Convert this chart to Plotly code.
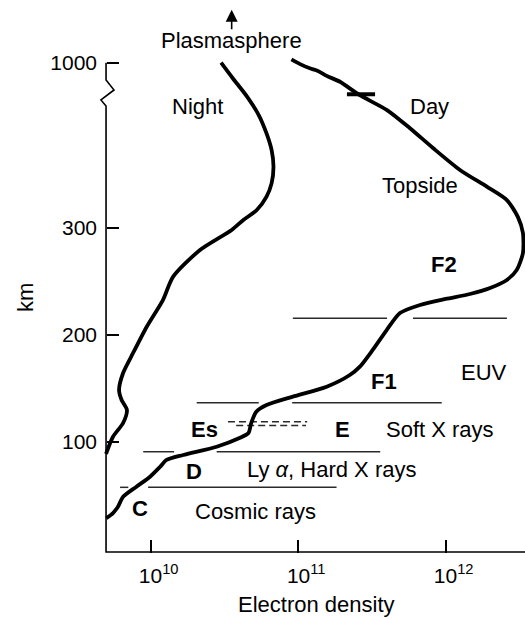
import math
import plotly.graph_objects as go

# ---------------- data ----------------
# Day electron-density profile (electrons per m^3) vs altitude (km)
day_density = [5.0e9, 5.55e9, 6.0e9, 6.5e9, 8.0e9, 9.9e9, 1.16e10, 1.28e10, 1.66e10,
               2.8e10, 4.0e10, 4.6e10, 4.8e10, 5.2e10, 6.1e10, 9.2e10, 1.56e11, 2.24e11,
               2.62e11, 3.2e11, 3.98e11, 4.9e11, 6.7e11, 1.0e12, 1.46e12, 2.0e12, 2.6e12,
               3.03e12, 3.34e12, 3.34e12, 3.09e12, 2.6e12, 1.9e12, 1.25e12, 8.2e11, 5.7e11,
               4.0e11, 2.6e11, 1.92e11, 1.56e11, 1.36e11, 1.2e11, 1.03e11, 9.0e10]
day_km = [28.8, 33.7, 39.6, 48.9, 58.3, 67.6, 76.9, 83.2, 87.9,
          95.6, 103.7, 108.4, 117.7, 128.3, 134.5, 142.3, 151.6, 162.5,
          170.3, 185.9, 204.5, 220.4, 227.9, 233.5, 238.1, 243.7, 251.2,
          260.5, 276.4, 295.0, 345, 417, 474, 545, 638, 723,
          799, 863, 919, 944, 965, 976, 994, 1014]

# Night electron-density profile
night_density = [4.98e9, 5.55e9, 6.5e9, 6.9e9, 6.35e9, 6.1e9, 6.5e9, 7.6e9, 9.4e9,
                 1.21e10, 1.42e10, 2.16e10, 3.54e10, 4.25e10, 5.24e10, 6.1e10, 6.6e10,
                 6.8e10, 6.6e10, 6.1e10, 5.4e10, 4.5e10, 3.6e10, 3.0e10]
night_km = [89, 104.9, 117.7, 129.9, 139.2, 148.5, 164.4, 183.1, 207.6,
            232.5, 254.3, 279.2, 297.9, 333, 375, 432, 488,
            559, 630, 700, 778, 856, 934, 1000]

# Layer boundary lines: start density, end density, altitude (km)
band_x0 = [9.2e10, 6.0e11, 2.05e10, 9.1e10, 8.9e9, 2.8e10, 6.2e9, 9.6e9]
band_x1 = [4.0e11, 2.6e12, 5.4e10, 9.4e11, 1.44e10, 3.6e11, 7.05e9, 1.82e11]
band_km = [215.5, 215.5, 136.7, 136.7, 90.9, 90.9, 57.7, 57.7]

# Sporadic-E (Es) dashed lines
es_x0 = [3.34e10, 3.8e10]
es_x1 = [1.15e11, 1.13e11]
es_km = [118.9, 115.4]

# Break mark on the day curve
mark_x = [2.14e11, 3.32e11]
mark_km = [866, 866]

# Text labels
label_text = ["Plasmasphere", "Night", "Day", "Topside", "F2", "F1", "EUV", "E",
              "Soft X rays", "Es", "D", "Ly <i>α</i>, Hard X rays", "C", "Cosmic rays"]
label_x = [3.54e10, 2.08e10, 7.76e11, 6.7e11, 9.8e11, 3.82e11, 1.82e12, 2.0e11,
           9.15e11, 2.3e10, 1.97e10, 1.69e11, 8.47e9, 5.14e10]
label_km = [1096, 816, 816, 481, 265.2, 156.9, 164.4, 111.2,
            112.1, 111.2, 72.9, 73.9, 38.4, 34.7]
label_bold = [False, False, False, False, True, True, False, True,
              False, True, True, False, True, False]

x_tickvals = [1e10, 1e11, 1e12]
x_ticktext = ["10<sup>10</sup>", "10<sup>11</sup>", "10<sup>12</sup>"]
y_tick_km = [100, 200, 300, 1000]
y_ticktext = ["100", "200", "300", "1000"]


# altitude axis: linear up to 300 km, compressed above (broken axis)
def disp(km):
    return km if km <= 300 else 300 + (km - 300) * 154.0 / 700.0


FONT = "Liberation Sans, Arial, Helvetica, sans-serif"
fig = go.Figure()

# axis frame with break symbol (left and bottom lines)
frame_x = [4.98e9, 4.98e9, 5.64e9, 4.6e9, 4.98e9, 4.98e9, 3.45e12]
frame_y = [disp(1000), 437.8, 428.5, 419.2, 413.6, -2.66, -2.66]
fig.add_trace(go.Scatter(x=frame_x, y=frame_y, mode="lines",
                         line=dict(color="black", width=1.6), hoverinfo="skip"))

for x0, x1, k in zip(band_x0, band_x1, band_km):
    fig.add_trace(go.Scatter(x=[x0, x1], y=[disp(k), disp(k)], mode="lines",
                             line=dict(color="#2a2a2a", width=1.5), hoverinfo="skip"))
for x0, x1, k in zip(es_x0, es_x1, es_km):
    fig.add_trace(go.Scatter(x=[x0, x1], y=[disp(k), disp(k)], mode="lines",
                             line=dict(color="#2a2a2a", width=1.3, dash="7px,4px"),
                             hoverinfo="skip"))

fig.add_trace(go.Scatter(x=day_density, y=[disp(k) for k in day_km], mode="lines",
                         line=dict(color="black", width=3.8, shape="spline", smoothing=0.7),
                         name="Day"))
fig.add_trace(go.Scatter(x=night_density, y=[disp(k) for k in night_km], mode="lines",
                         line=dict(color="black", width=3.8, shape="spline", smoothing=0.7),
                         name="Night"))
fig.add_trace(go.Scatter(x=mark_x, y=[disp(k) for k in mark_km], mode="lines",
                         line=dict(color="black", width=4), hoverinfo="skip"))

anns = []
for t, x, k, b in zip(label_text, label_x, label_km, label_bold):
    anns.append(dict(x=math.log10(x), y=disp(k), xref="x", yref="y",
                     text=f"<b>{t}</b>" if b else t, showarrow=False,
                     xanchor="center", yanchor="middle",
                     font=dict(family=FONT, size=22, color="black")))
# arrow above "Plasmasphere"
anns.append(dict(x=math.log10(3.54e10), y=503.5, xref="x", yref="y", text="",
                 showarrow=True, ax=0, ay=21, arrowhead=2, arrowsize=1.5,
                 arrowwidth=1.6, arrowcolor="black"))
# axis titles
anns.append(dict(x=(25 - 95) / 430, y=1 - 298 / 553, xref="paper", yref="paper",
                 text="km", textangle=-90, showarrow=False, xanchor="center",
                 yanchor="middle", font=dict(family=FONT, size=22, color="black")))
anns.append(dict(x=(316 - 95) / 430, y=(553 - 604) / 553, xref="paper", yref="paper",
                 text="Electron density", showarrow=False, xanchor="center",
                 yanchor="middle", font=dict(family=FONT, size=22, color="black")))

fig.update_layout(
    width=525, height=619,
    margin=dict(l=95, r=0, t=0, b=66),
    paper_bgcolor="white", plot_bgcolor="white",
    showlegend=False,
    annotations=anns,
    xaxis=dict(type="log", range=[9.6224, 12.5377], domain=[0, 1],
               showgrid=False, zeroline=False, showline=False,
               ticks="inside", ticklen=13, tickwidth=1.5, tickcolor="black",
               tickvals=x_tickvals, ticktext=x_ticktext, ticklabelshift=8,
               ticklabelstandoff=8,
               tickfont=dict(family=FONT, size=21, color="black")),
    yaxis=dict(range=[-3.6, 512.5], anchor="free", position=11 / 430,
               showgrid=False, zeroline=False, showline=False,
               ticks="inside", ticklen=12, tickwidth=1.5, tickcolor="black",
               tickvals=[disp(k) for k in y_tick_km], ticktext=y_ticktext,
               ticklabelstandoff=9,
               tickfont=dict(family=FONT, size=21, color="black")),
)

fig.write_html("out.html")
